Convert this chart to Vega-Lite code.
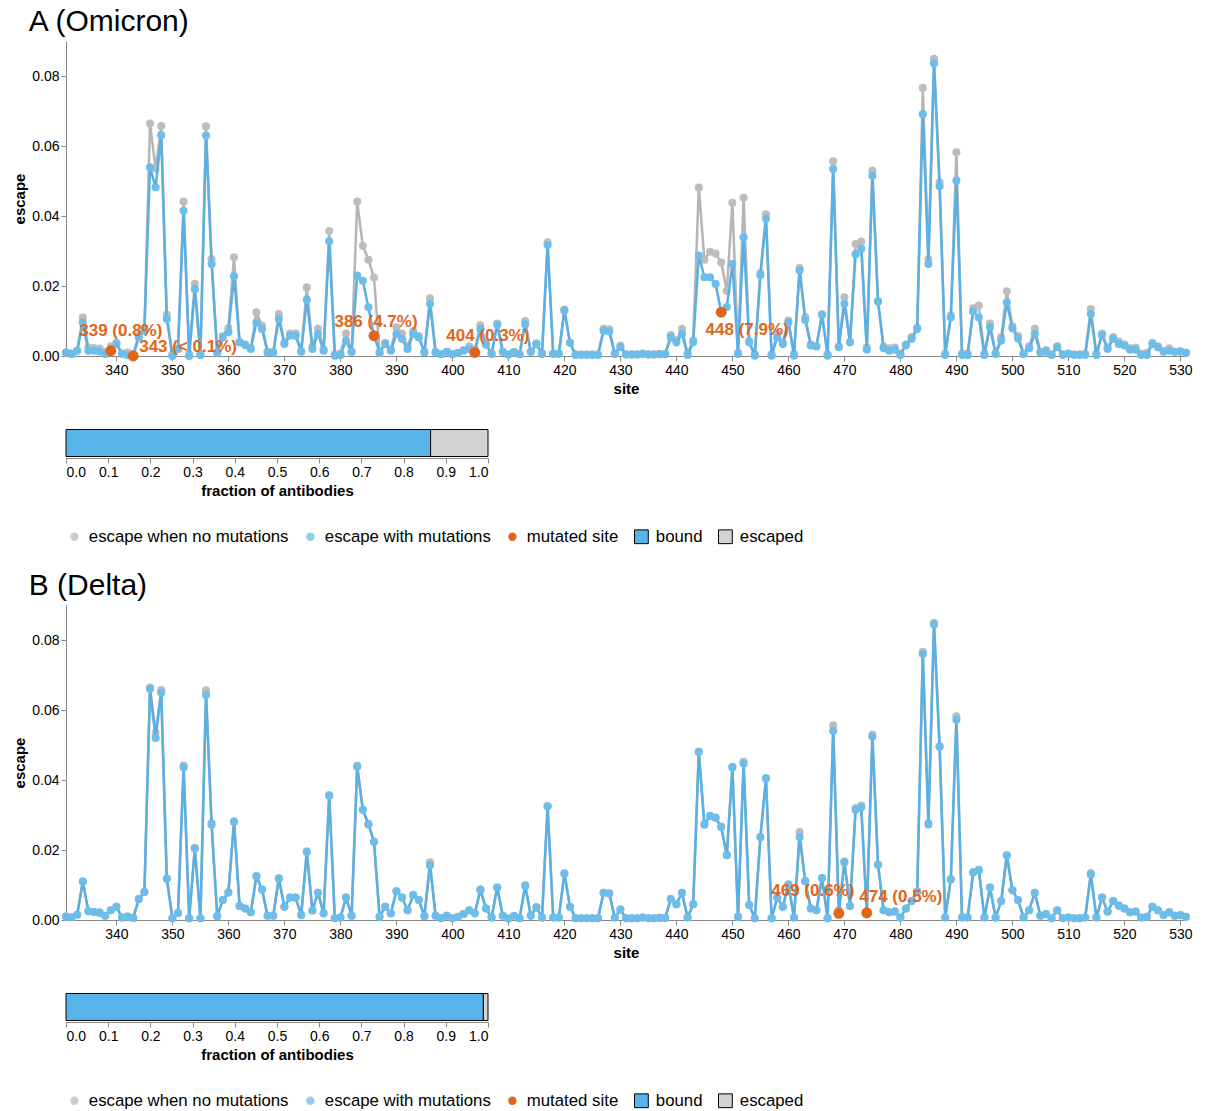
{
  "$schema": "https://vega.github.io/schema/vega-lite/v6.json",
  "background": "white",
  "padding": {"left": 12, "top": 7, "right": 5, "bottom": 5},
  "config": {
    "font": "Liberation Sans",
    "view": {"stroke": null},
    "axis": {"labelFontSize": 14, "titleFontSize": 15, "titleFontWeight": "bold", "labelColor": "#000", "titleColor": "#000", "domainColor": "#888", "tickColor": "#888", "grid": false},
    "legend": {
      "orient": "bottom", "direction": "horizontal", "title": null,
      "labelFontSize": 16.8, "labelColor": "#000", "labelLimit": 0, "columnPadding": 13, "labelOffset": 6, "offset": 30,
      "symbolType": {"expr": "datum.value == 'bound' || datum.value == 'escaped' ? 'square' : 'circle'"},
      "symbolSize": {"expr": "datum.value == 'bound' || datum.value == 'escaped' ? 190 : 70"},
      "symbolStrokeColor": {"expr": "datum.value == 'bound' || datum.value == 'escaped' ? 'black' : 'transparent'"},
      "symbolStrokeWidth": 1,
      "symbolOpacity": {"expr": "datum.value == 'none' || datum.value == 'omicron' || datum.value == 'delta' ? 0.75 : 1"}
    },
    "title": {"fontSize": 30, "fontWeight": "normal", "anchor": "start", "color": "#000", "dx": 16}
  },
  "datasets": {
    "sites": [
      {"site":331,"none":0.0010,"omicron":0.0010,"delta":0.0010},
      {"site":332,"none":0.0008,"omicron":0.0006,"delta":0.0008},
      {"site":333,"none":0.0015,"omicron":0.0015,"delta":0.0015},
      {"site":334,"none":0.0110,"omicron":0.0096,"delta":0.0110},
      {"site":335,"none":0.0025,"omicron":0.0015,"delta":0.0025},
      {"site":336,"none":0.0023,"omicron":0.0015,"delta":0.0023},
      {"site":337,"none":0.0021,"omicron":0.0013,"delta":0.0021},
      {"site":338,"none":0.0012,"omicron":0.0006,"delta":0.0012},
      {"site":339,"none":0.0028,"omicron":0.0015,"delta":0.0028},
      {"site":340,"none":0.0038,"omicron":0.0034,"delta":0.0038},
      {"site":341,"none":0.0007,"omicron":0.0006,"delta":0.0007},
      {"site":342,"none":0.0010,"omicron":0.0003,"delta":0.0010},
      {"site":343,"none":0.0006,"omicron":0.0000,"delta":0.0006},
      {"site":344,"none":0.0060,"omicron":0.0053,"delta":0.0060},
      {"site":345,"none":0.0080,"omicron":0.0072,"delta":0.0080},
      {"site":346,"none":0.0664,"omicron":0.0539,"delta":0.0660},
      {"site":347,"none":0.0535,"omicron":0.0482,"delta":0.0520},
      {"site":348,"none":0.0657,"omicron":0.0631,"delta":0.0650},
      {"site":349,"none":0.0118,"omicron":0.0106,"delta":0.0118},
      {"site":350,"none":0.0005,"omicron":0.0000,"delta":0.0005},
      {"site":351,"none":0.0020,"omicron":0.0020,"delta":0.0020},
      {"site":352,"none":0.0441,"omicron":0.0415,"delta":0.0436},
      {"site":353,"none":0.0005,"omicron":0.0000,"delta":0.0005},
      {"site":354,"none":0.0206,"omicron":0.0191,"delta":0.0204},
      {"site":355,"none":0.0005,"omicron":0.0003,"delta":0.0005},
      {"site":356,"none":0.0656,"omicron":0.0630,"delta":0.0643},
      {"site":357,"none":0.0277,"omicron":0.0263,"delta":0.0272},
      {"site":358,"none":0.0011,"omicron":0.0009,"delta":0.0011},
      {"site":359,"none":0.0057,"omicron":0.0053,"delta":0.0057},
      {"site":360,"none":0.0080,"omicron":0.0068,"delta":0.0078},
      {"site":361,"none":0.0282,"omicron":0.0228,"delta":0.0280},
      {"site":362,"none":0.0040,"omicron":0.0039,"delta":0.0040},
      {"site":363,"none":0.0033,"omicron":0.0031,"delta":0.0033},
      {"site":364,"none":0.0022,"omicron":0.0020,"delta":0.0022},
      {"site":365,"none":0.0125,"omicron":0.0096,"delta":0.0125},
      {"site":366,"none":0.0087,"omicron":0.0077,"delta":0.0087},
      {"site":367,"none":0.0012,"omicron":0.0010,"delta":0.0012},
      {"site":368,"none":0.0012,"omicron":0.0009,"delta":0.0012},
      {"site":369,"none":0.0120,"omicron":0.0106,"delta":0.0118},
      {"site":370,"none":0.0038,"omicron":0.0034,"delta":0.0038},
      {"site":371,"none":0.0064,"omicron":0.0058,"delta":0.0064},
      {"site":372,"none":0.0064,"omicron":0.0058,"delta":0.0064},
      {"site":373,"none":0.0014,"omicron":0.0012,"delta":0.0014},
      {"site":374,"none":0.0196,"omicron":0.0161,"delta":0.0194},
      {"site":375,"none":0.0027,"omicron":0.0020,"delta":0.0027},
      {"site":376,"none":0.0078,"omicron":0.0063,"delta":0.0078},
      {"site":377,"none":0.0019,"omicron":0.0015,"delta":0.0019},
      {"site":378,"none":0.0357,"omicron":0.0328,"delta":0.0355},
      {"site":379,"none":0.0005,"omicron":0.0001,"delta":0.0005},
      {"site":380,"none":0.0007,"omicron":0.0003,"delta":0.0007},
      {"site":381,"none":0.0064,"omicron":0.0044,"delta":0.0064},
      {"site":382,"none":0.0012,"omicron":0.0012,"delta":0.0012},
      {"site":383,"none":0.0441,"omicron":0.0230,"delta":0.0438},
      {"site":384,"none":0.0315,"omicron":0.0215,"delta":0.0315},
      {"site":385,"none":0.0275,"omicron":0.0139,"delta":0.0273},
      {"site":386,"none":0.0224,"omicron":0.0058,"delta":0.0223},
      {"site":387,"none":0.0009,"omicron":0.0010,"delta":0.0009},
      {"site":388,"none":0.0038,"omicron":0.0034,"delta":0.0038},
      {"site":389,"none":0.0019,"omicron":0.0015,"delta":0.0019},
      {"site":390,"none":0.0082,"omicron":0.0063,"delta":0.0082},
      {"site":391,"none":0.0064,"omicron":0.0049,"delta":0.0064},
      {"site":392,"none":0.0028,"omicron":0.0020,"delta":0.0028},
      {"site":393,"none":0.0071,"omicron":0.0063,"delta":0.0071},
      {"site":394,"none":0.0057,"omicron":0.0053,"delta":0.0057},
      {"site":395,"none":0.0011,"omicron":0.0011,"delta":0.0011},
      {"site":396,"none":0.0165,"omicron":0.0149,"delta":0.0156},
      {"site":397,"none":0.0012,"omicron":0.0010,"delta":0.0012},
      {"site":398,"none":0.0005,"omicron":0.0005,"delta":0.0005},
      {"site":399,"none":0.0012,"omicron":0.0012,"delta":0.0012},
      {"site":400,"none":0.0005,"omicron":0.0005,"delta":0.0005},
      {"site":401,"none":0.0009,"omicron":0.0009,"delta":0.0009},
      {"site":402,"none":0.0017,"omicron":0.0015,"delta":0.0017},
      {"site":403,"none":0.0028,"omicron":0.0020,"delta":0.0028},
      {"site":404,"none":0.0019,"omicron":0.0010,"delta":0.0019},
      {"site":405,"none":0.0088,"omicron":0.0077,"delta":0.0085},
      {"site":406,"none":0.0033,"omicron":0.0033,"delta":0.0033},
      {"site":407,"none":0.0007,"omicron":0.0006,"delta":0.0007},
      {"site":408,"none":0.0093,"omicron":0.0089,"delta":0.0093},
      {"site":409,"none":0.0012,"omicron":0.0012,"delta":0.0012},
      {"site":410,"none":0.0004,"omicron":0.0004,"delta":0.0004},
      {"site":411,"none":0.0012,"omicron":0.0010,"delta":0.0012},
      {"site":412,"none":0.0005,"omicron":0.0005,"delta":0.0005},
      {"site":413,"none":0.0100,"omicron":0.0091,"delta":0.0097},
      {"site":414,"none":0.0012,"omicron":0.0012,"delta":0.0012},
      {"site":415,"none":0.0036,"omicron":0.0034,"delta":0.0036},
      {"site":416,"none":0.0007,"omicron":0.0006,"delta":0.0007},
      {"site":417,"none":0.0325,"omicron":0.0317,"delta":0.0325},
      {"site":418,"none":0.0007,"omicron":0.0006,"delta":0.0007},
      {"site":419,"none":0.0007,"omicron":0.0006,"delta":0.0007},
      {"site":420,"none":0.0133,"omicron":0.0130,"delta":0.0133},
      {"site":421,"none":0.0038,"omicron":0.0038,"delta":0.0038},
      {"site":422,"none":0.0005,"omicron":0.0003,"delta":0.0005},
      {"site":423,"none":0.0005,"omicron":0.0003,"delta":0.0005},
      {"site":424,"none":0.0005,"omicron":0.0003,"delta":0.0005},
      {"site":425,"none":0.0005,"omicron":0.0003,"delta":0.0005},
      {"site":426,"none":0.0005,"omicron":0.0003,"delta":0.0005},
      {"site":427,"none":0.0078,"omicron":0.0072,"delta":0.0078},
      {"site":428,"none":0.0076,"omicron":0.0070,"delta":0.0076},
      {"site":429,"none":0.0007,"omicron":0.0006,"delta":0.0007},
      {"site":430,"none":0.0030,"omicron":0.0025,"delta":0.0030},
      {"site":431,"none":0.0005,"omicron":0.0004,"delta":0.0005},
      {"site":432,"none":0.0005,"omicron":0.0004,"delta":0.0005},
      {"site":433,"none":0.0005,"omicron":0.0004,"delta":0.0005},
      {"site":434,"none":0.0007,"omicron":0.0006,"delta":0.0007},
      {"site":435,"none":0.0005,"omicron":0.0004,"delta":0.0005},
      {"site":436,"none":0.0005,"omicron":0.0004,"delta":0.0005},
      {"site":437,"none":0.0006,"omicron":0.0005,"delta":0.0006},
      {"site":438,"none":0.0006,"omicron":0.0005,"delta":0.0006},
      {"site":439,"none":0.0060,"omicron":0.0053,"delta":0.0060},
      {"site":440,"none":0.0045,"omicron":0.0039,"delta":0.0045},
      {"site":441,"none":0.0078,"omicron":0.0063,"delta":0.0078},
      {"site":442,"none":0.0007,"omicron":0.0003,"delta":0.0007},
      {"site":443,"none":0.0045,"omicron":0.0039,"delta":0.0045},
      {"site":444,"none":0.0481,"omicron":0.0287,"delta":0.0480},
      {"site":445,"none":0.0275,"omicron":0.0225,"delta":0.0272},
      {"site":446,"none":0.0298,"omicron":0.0225,"delta":0.0297},
      {"site":447,"none":0.0293,"omicron":0.0206,"delta":0.0292},
      {"site":448,"none":0.0267,"omicron":0.0125,"delta":0.0265},
      {"site":449,"none":0.0186,"omicron":0.0140,"delta":0.0185},
      {"site":450,"none":0.0438,"omicron":0.0263,"delta":0.0436},
      {"site":451,"none":0.0009,"omicron":0.0006,"delta":0.0009},
      {"site":452,"none":0.0452,"omicron":0.0339,"delta":0.0447},
      {"site":453,"none":0.0043,"omicron":0.0039,"delta":0.0043},
      {"site":454,"none":0.0005,"omicron":0.0001,"delta":0.0005},
      {"site":455,"none":0.0237,"omicron":0.0231,"delta":0.0237},
      {"site":456,"none":0.0405,"omicron":0.0393,"delta":0.0405},
      {"site":457,"none":0.0005,"omicron":0.0001,"delta":0.0005},
      {"site":458,"none":0.0064,"omicron":0.0053,"delta":0.0064},
      {"site":459,"none":0.0038,"omicron":0.0034,"delta":0.0038},
      {"site":460,"none":0.0101,"omicron":0.0096,"delta":0.0101},
      {"site":461,"none":0.0007,"omicron":0.0001,"delta":0.0007},
      {"site":462,"none":0.0251,"omicron":0.0244,"delta":0.0237},
      {"site":463,"none":0.0111,"omicron":0.0103,"delta":0.0111},
      {"site":464,"none":0.0033,"omicron":0.0030,"delta":0.0033},
      {"site":465,"none":0.0028,"omicron":0.0027,"delta":0.0028},
      {"site":466,"none":0.0120,"omicron":0.0117,"delta":0.0120},
      {"site":467,"none":0.0005,"omicron":0.0001,"delta":0.0005},
      {"site":468,"none":0.0556,"omicron":0.0534,"delta":0.0540},
      {"site":469,"none":0.0028,"omicron":0.0025,"delta":0.0019},
      {"site":470,"none":0.0168,"omicron":0.0149,"delta":0.0164},
      {"site":471,"none":0.0040,"omicron":0.0039,"delta":0.0040},
      {"site":472,"none":0.0320,"omicron":0.0291,"delta":0.0315},
      {"site":473,"none":0.0327,"omicron":0.0306,"delta":0.0322},
      {"site":474,"none":0.0025,"omicron":0.0018,"delta":0.0020},
      {"site":475,"none":0.0530,"omicron":0.0515,"delta":0.0524},
      {"site":476,"none":0.0158,"omicron":0.0155,"delta":0.0158},
      {"site":477,"none":0.0028,"omicron":0.0022,"delta":0.0028},
      {"site":478,"none":0.0022,"omicron":0.0015,"delta":0.0022},
      {"site":479,"none":0.0024,"omicron":0.0018,"delta":0.0024},
      {"site":480,"none":0.0007,"omicron":0.0003,"delta":0.0007},
      {"site":481,"none":0.0033,"omicron":0.0031,"delta":0.0033},
      {"site":482,"none":0.0054,"omicron":0.0049,"delta":0.0054},
      {"site":483,"none":0.0081,"omicron":0.0077,"delta":0.0081},
      {"site":484,"none":0.0766,"omicron":0.0691,"delta":0.0760},
      {"site":485,"none":0.0277,"omicron":0.0263,"delta":0.0273},
      {"site":486,"none":0.0849,"omicron":0.0836,"delta":0.0844},
      {"site":487,"none":0.0496,"omicron":0.0485,"delta":0.0495},
      {"site":488,"none":0.0007,"omicron":0.0003,"delta":0.0007},
      {"site":489,"none":0.0116,"omicron":0.0110,"delta":0.0116},
      {"site":490,"none":0.0582,"omicron":0.0501,"delta":0.0572},
      {"site":491,"none":0.0007,"omicron":0.0003,"delta":0.0007},
      {"site":492,"none":0.0007,"omicron":0.0003,"delta":0.0007},
      {"site":493,"none":0.0136,"omicron":0.0127,"delta":0.0136},
      {"site":494,"none":0.0144,"omicron":0.0110,"delta":0.0142},
      {"site":495,"none":0.0007,"omicron":0.0003,"delta":0.0007},
      {"site":496,"none":0.0093,"omicron":0.0082,"delta":0.0093},
      {"site":497,"none":0.0007,"omicron":0.0006,"delta":0.0007},
      {"site":498,"none":0.0054,"omicron":0.0044,"delta":0.0054},
      {"site":499,"none":0.0185,"omicron":0.0153,"delta":0.0185},
      {"site":500,"none":0.0085,"omicron":0.0079,"delta":0.0085},
      {"site":501,"none":0.0057,"omicron":0.0050,"delta":0.0057},
      {"site":502,"none":0.0007,"omicron":0.0006,"delta":0.0007},
      {"site":503,"none":0.0028,"omicron":0.0022,"delta":0.0028},
      {"site":504,"none":0.0078,"omicron":0.0063,"delta":0.0078},
      {"site":505,"none":0.0012,"omicron":0.0010,"delta":0.0012},
      {"site":506,"none":0.0017,"omicron":0.0012,"delta":0.0017},
      {"site":507,"none":0.0005,"omicron":0.0003,"delta":0.0005},
      {"site":508,"none":0.0028,"omicron":0.0025,"delta":0.0028},
      {"site":509,"none":0.0005,"omicron":0.0003,"delta":0.0005},
      {"site":510,"none":0.0007,"omicron":0.0006,"delta":0.0007},
      {"site":511,"none":0.0005,"omicron":0.0003,"delta":0.0005},
      {"site":512,"none":0.0005,"omicron":0.0003,"delta":0.0005},
      {"site":513,"none":0.0007,"omicron":0.0003,"delta":0.0007},
      {"site":514,"none":0.0134,"omicron":0.0120,"delta":0.0130},
      {"site":515,"none":0.0007,"omicron":0.0003,"delta":0.0007},
      {"site":516,"none":0.0064,"omicron":0.0060,"delta":0.0064},
      {"site":517,"none":0.0024,"omicron":0.0020,"delta":0.0024},
      {"site":518,"none":0.0054,"omicron":0.0049,"delta":0.0054},
      {"site":519,"none":0.0041,"omicron":0.0034,"delta":0.0041},
      {"site":520,"none":0.0033,"omicron":0.0030,"delta":0.0033},
      {"site":521,"none":0.0022,"omicron":0.0018,"delta":0.0022},
      {"site":522,"none":0.0024,"omicron":0.0018,"delta":0.0024},
      {"site":523,"none":0.0007,"omicron":0.0003,"delta":0.0007},
      {"site":524,"none":0.0009,"omicron":0.0003,"delta":0.0009},
      {"site":525,"none":0.0038,"omicron":0.0034,"delta":0.0038},
      {"site":526,"none":0.0028,"omicron":0.0025,"delta":0.0028},
      {"site":527,"none":0.0014,"omicron":0.0012,"delta":0.0014},
      {"site":528,"none":0.0022,"omicron":0.0015,"delta":0.0022},
      {"site":529,"none":0.0012,"omicron":0.0012,"delta":0.0012},
      {"site":530,"none":0.0014,"omicron":0.0012,"delta":0.0014},
      {"site":531,"none":0.0009,"omicron":0.0009,"delta":0.0009}
    ],
    "mutated": [
      {"variant":"Omicron","site":339,"escape":0.0015,"label":"339 (0.8%)","key":"mutated"},
      {"variant":"Omicron","site":343,"escape":0.0000,"label":"343 (< 0.1%)","key":"mutated"},
      {"variant":"Omicron","site":386,"escape":0.0058,"label":"386 (4.7%)","key":"mutated"},
      {"variant":"Omicron","site":404,"escape":0.0010,"label":"404 (0.3%)","key":"mutated"},
      {"variant":"Omicron","site":448,"escape":0.0125,"label":"448 (7.9%)","key":"mutated"},
      {"variant":"Delta","site":469,"escape":0.0019,"label":"469 (0.6%)","key":"mutated"},
      {"variant":"Delta","site":474,"escape":0.0020,"label":"474 (0.5%)","key":"mutated"}
    ],
    "fractions": [
      {"variant":"Omicron","key":"bound","fraction":0.864},
      {"variant":"Omicron","key":"escaped","fraction":0.136},
      {"variant":"Delta","key":"bound","fraction":0.989},
      {"variant":"Delta","key":"escaped","fraction":0.011}
    ]
  },
  "spacing": 25,
  "resolve": {"scale": {"color": "independent"}, "legend": {"color": "independent"}},
  "vconcat": [
    {
      "title": {"text": "A (Omicron)"},
      "spacing": 32,
      "resolve": {"scale": {"x": "independent", "y": "independent"}},
      "vconcat": [
        {
          "width": 1120,
          "height": 315,
          "data": {"name": "sites"},
          "encoding": {
            "x": {"field": "site", "type": "quantitative", "scale": {"domain": [331, 531], "nice": false, "zero": false},
                  "axis": {"title": "site", "values": [340,350,360,370,380,390,400,410,420,430,440,450,460,470,480,490,500,510,520,530], "format": "d"}},
            "y": {"field": "escape", "type": "quantitative", "scale": {"domain": [0, 0.09], "nice": false},
                  "axis": {"title": "escape", "values": [0, 0.02, 0.04, 0.06, 0.08], "format": ".2f"}}
          },
          "layer": [
            {
              "transform": [{"fold": ["none", "omicron"], "as": ["key", "escape"]}, {"filter": "datum.key == 'none'"}],
              "mark": {"type": "line", "color": "#B5B5B5", "strokeWidth": 2.5}
            },
            {
              "transform": [{"fold": ["none", "omicron"], "as": ["key", "escape"]}, {"filter": "datum.key == 'none'"}],
              "mark": {"type": "circle", "opacity": 1, "size": 65},
              "encoding": {
                "color": {"field": "key", "type": "nominal", "scale": {"domain": ["none", "omicron", "mutated", "bound", "escaped"], "range": ["#BDBDBD", "#6DBDEB", "#E0661B", "#56B4E9", "#D3D3D3"]},
                  "legend": {"labelExpr": "datum.label == 'none' ? 'escape when no mutations' : datum.label == 'mutated' ? 'mutated site' : (datum.label == 'bound' || datum.label == 'escaped') ? datum.label : 'escape with mutations'"}}
              }
            },
            {
              "transform": [{"fold": ["none", "omicron"], "as": ["key", "escape"]}, {"filter": "datum.key != 'none'"}],
              "mark": {"type": "line", "color": "#5AB0E2", "strokeWidth": 2.5}
            },
            {
              "transform": [{"fold": ["none", "omicron"], "as": ["key", "escape"]}, {"filter": "datum.key != 'none'"}],
              "mark": {"type": "circle", "opacity": 1, "size": 65},
              "encoding": {
                "color": {"field": "key", "type": "nominal", "scale": {"domain": ["none", "omicron", "mutated", "bound", "escaped"], "range": ["#BDBDBD", "#6DBDEB", "#E0661B", "#56B4E9", "#D3D3D3"]}}
              }
            },
            {
              "data": {"name": "mutated"},
              "transform": [{"filter": "datum.variant == 'Omicron'"}],
              "mark": {"type": "circle", "opacity": 1, "size": 120},
              "encoding": {
                "color": {"field": "key", "type": "nominal", "scale": {"domain": ["none", "omicron", "mutated", "bound", "escaped"], "range": ["#BDBDBD", "#6DBDEB", "#E0661B", "#56B4E9", "#D3D3D3"]}}
              }
            },
            {
              "data": {"name": "mutated"},
              "transform": [{"filter": "datum.variant == 'Omicron'"}],
              "mark": {
                "type": "text", "fontSize": 17, "fontWeight": "bold", "color": "#E0661B", "baseline": "middle",
                "align": {"expr": "datum.site == 343 ? 'left' : 'center'"},
                "dx": {"expr": "datum.site == 339 ? 10 : datum.site == 343 ? 6 : datum.site == 386 ? 2 : datum.site == 404 ? 13 : datum.site == 448 ? 26 : 0"},
                "dy": {"expr": "datum.site == 339 ? -20 : datum.site == 343 ? -9 : datum.site == 386 ? -14 : datum.site == 404 ? -17 : datum.site == 448 ? 18 : -15"}
              },
              "encoding": {"text": {"field": "label"}}
            }
          ]
        },
        {
          "width": 422,
          "height": 30,
          "data": {"name": "fractions"},
          "transform": [{"filter": "datum.variant == 'Omicron'"}],
          "mark": {"type": "bar", "stroke": "black", "strokeWidth": 1},
          "encoding": {
            "x": {"field": "fraction", "type": "quantitative", "stack": "zero", "scale": {"domain": [0, 1], "nice": false},
                  "axis": {"title": "fraction of antibodies", "values": [0, 0.1, 0.2, 0.3, 0.4, 0.5, 0.6, 0.7, 0.8, 0.9, 1], "format": ".1f"}},
            "order": {"field": "key", "sort": "ascending"},
            "color": {"field": "key", "type": "nominal", "scale": {"domain": ["none", "omicron", "mutated", "bound", "escaped"], "range": ["#BDBDBD", "#6DBDEB", "#E0661B", "#56B4E9", "#D3D3D3"]}}
          }
        }
      ]
    },
    {
      "title": {"text": "B (Delta)"},
      "spacing": 32,
      "resolve": {"scale": {"x": "independent", "y": "independent"}},
      "vconcat": [
        {
          "width": 1120,
          "height": 315,
          "data": {"name": "sites"},
          "encoding": {
            "x": {"field": "site", "type": "quantitative", "scale": {"domain": [331, 531], "nice": false, "zero": false},
                  "axis": {"title": "site", "values": [340,350,360,370,380,390,400,410,420,430,440,450,460,470,480,490,500,510,520,530], "format": "d"}},
            "y": {"field": "escape", "type": "quantitative", "scale": {"domain": [0, 0.09], "nice": false},
                  "axis": {"title": "escape", "values": [0, 0.02, 0.04, 0.06, 0.08], "format": ".2f"}}
          },
          "layer": [
            {
              "transform": [{"fold": ["none", "delta"], "as": ["key", "escape"]}, {"filter": "datum.key == 'none'"}],
              "mark": {"type": "line", "color": "#B5B5B5", "strokeWidth": 2.5}
            },
            {
              "transform": [{"fold": ["none", "delta"], "as": ["key", "escape"]}, {"filter": "datum.key == 'none'"}],
              "mark": {"type": "circle", "opacity": 1, "size": 65},
              "encoding": {
                "color": {"field": "key", "type": "nominal", "scale": {"domain": ["none", "delta", "mutated", "bound", "escaped"], "range": ["#BDBDBD", "#6DBDEB", "#E0661B", "#56B4E9", "#D3D3D3"]},
                  "legend": {"labelExpr": "datum.label == 'none' ? 'escape when no mutations' : datum.label == 'mutated' ? 'mutated site' : (datum.label == 'bound' || datum.label == 'escaped') ? datum.label : 'escape with mutations'"}}
              }
            },
            {
              "transform": [{"fold": ["none", "delta"], "as": ["key", "escape"]}, {"filter": "datum.key != 'none'"}],
              "mark": {"type": "line", "color": "#5AB0E2", "strokeWidth": 2.5}
            },
            {
              "transform": [{"fold": ["none", "delta"], "as": ["key", "escape"]}, {"filter": "datum.key != 'none'"}],
              "mark": {"type": "circle", "opacity": 1, "size": 65},
              "encoding": {
                "color": {"field": "key", "type": "nominal", "scale": {"domain": ["none", "delta", "mutated", "bound", "escaped"], "range": ["#BDBDBD", "#6DBDEB", "#E0661B", "#56B4E9", "#D3D3D3"]}}
              }
            },
            {
              "data": {"name": "mutated"},
              "transform": [{"filter": "datum.variant == 'Delta'"}],
              "mark": {"type": "circle", "opacity": 1, "size": 120},
              "encoding": {
                "color": {"field": "key", "type": "nominal", "scale": {"domain": ["none", "delta", "mutated", "bound", "escaped"], "range": ["#BDBDBD", "#6DBDEB", "#E0661B", "#56B4E9", "#D3D3D3"]}}
              }
            },
            {
              "data": {"name": "mutated"},
              "transform": [{"filter": "datum.variant == 'Delta'"}],
              "mark": {
                "type": "text", "fontSize": 17, "fontWeight": "bold", "color": "#E0661B", "baseline": "middle", "align": "center",
                "dx": {"expr": "datum.site == 469 ? -26 : datum.site == 474 ? 34 : 0"},
                "dy": {"expr": "datum.site == 469 ? -22 : datum.site == 474 ? -16 : -15"}
              },
              "encoding": {"text": {"field": "label"}}
            }
          ]
        },
        {
          "width": 422,
          "height": 30,
          "data": {"name": "fractions"},
          "transform": [{"filter": "datum.variant == 'Delta'"}],
          "mark": {"type": "bar", "stroke": "black", "strokeWidth": 1},
          "encoding": {
            "x": {"field": "fraction", "type": "quantitative", "stack": "zero", "scale": {"domain": [0, 1], "nice": false},
                  "axis": {"title": "fraction of antibodies", "values": [0, 0.1, 0.2, 0.3, 0.4, 0.5, 0.6, 0.7, 0.8, 0.9, 1], "format": ".1f"}},
            "order": {"field": "key", "sort": "ascending"},
            "color": {"field": "key", "type": "nominal", "scale": {"domain": ["none", "delta", "mutated", "bound", "escaped"], "range": ["#BDBDBD", "#6DBDEB", "#E0661B", "#56B4E9", "#D3D3D3"]}}
          }
        }
      ]
    }
  ]
}
